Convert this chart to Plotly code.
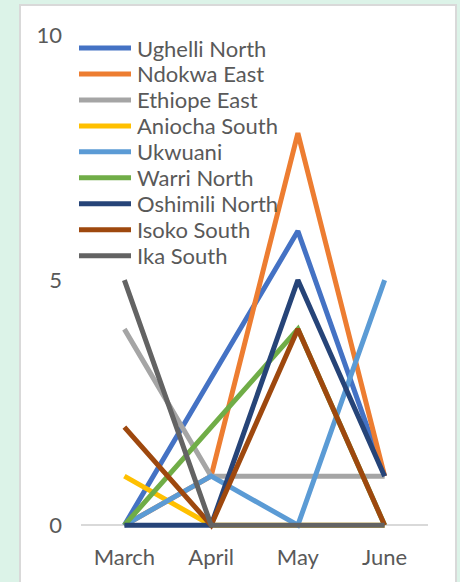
import plotly.graph_objects as go

months = ["March", "April", "May", "June"]
series_names = ["Ughelli North", "Ndokwa East", "Ethiope East", "Aniocha South",
                "Ukwuani", "Warri North", "Oshimili North", "Isoko South", "Ika South"]
ughelli_north = [0, 3, 6, 1]
ndokwa_east = [0, 1, 8, 1]
ethiope_east = [4, 1, 1, 1]
aniocha_south = [1, 0, 0, 0]
ukwuani = [0, 1, 0, 5]
warri_north = [0, 2, 4, 0]
oshimili_north = [0, 0, 5, 1]
isoko_south = [2, 0, 4, 0]
ika_south = [5, 0, 0, 0]
y_ticks = [0, 5, 10]

values = [ughelli_north, ndokwa_east, ethiope_east, aniocha_south, ukwuani,
          warri_north, oshimili_north, isoko_south, ika_south]
colors = ["#4472C4", "#ED7D31", "#A5A5A5", "#FFC000", "#5B9BD5",
          "#70AD47", "#264478", "#9E480E", "#636363"]

FONT = "Lato"
W, H = 460, 582
L, R, T, B = 81, 32, 35, 47
Y_MIN, Y_MAX = -0.2, 10
pw, ph = W - L - R, H - T - B

def px_x(p):
    return (p - L) / pw

def px_y(p):
    return (H - B - p) / ph

fig = go.Figure()
for name, vals, col in zip(series_names, values, colors):
    fig.add_trace(go.Scatter(x=months, y=vals, name=name, mode="lines",
                             line=dict(color=col, width=5), showlegend=False,
                             hoverinfo="skip"))

# chart-area background
fig.add_shape(type="rect", xref="paper", yref="paper",
              x0=px_x(20), x1=px_x(456), y0=px_y(600), y1=px_y(5),
              fillcolor="white", line=dict(color="#d9d9d9", width=2), layer="below")

# legend (drawn manually to match the tight entry spacing)
leg_top, leg_step = 48, 25.96
for i, (name, col) in enumerate(zip(series_names, colors)):
    yy = px_y(leg_top + leg_step * i)
    fig.add_shape(type="line", xref="paper", yref="paper",
                  x0=px_x(79), x1=px_x(131), y0=yy, y1=yy,
                  line=dict(color=col, width=5))
    fig.add_annotation(xref="paper", yref="paper", x=px_x(135), y=yy,
                       xanchor="left", yanchor="middle", showarrow=False,
                       text=name, font=dict(size=22, color="#595959", family=FONT))

fig.update_layout(
    width=W, height=H,
    margin=dict(l=L, r=R, t=T, b=B),
    paper_bgcolor="#dcf3e8",
    plot_bgcolor="rgba(0,0,0,0)",
    font=dict(family=FONT, color="#595959", size=22),
    showlegend=False,
    xaxis=dict(type="category", range=[-0.5, 3.5], showgrid=False,
               showline=False, zeroline=False,
               ticks="", tickfont=dict(size=22, color="#595959"), ticklabelstandoff=7),
    yaxis=dict(range=[Y_MIN, Y_MAX], tickvals=y_ticks, showgrid=False,
               zeroline=True, zerolinecolor="#d9d9d9", zerolinewidth=2,
               showline=False, ticks="", tickfont=dict(size=22, color="#595959"),
               ticklabelstandoff=18),
)

fig.write_html("out.html", config={"displayModeBar": False},
               post_script="document.body.style.margin='0';document.body.style.padding='0';")
